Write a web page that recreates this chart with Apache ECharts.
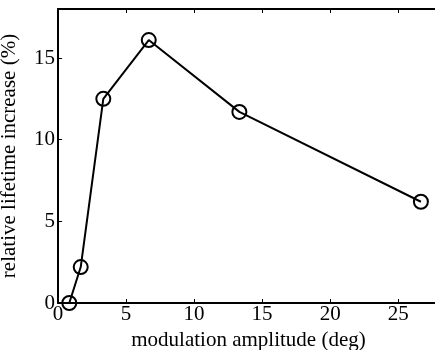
<!DOCTYPE html>
<html>
<head>
<meta charset="utf-8">
<script src="https://cdn.jsdelivr.net/npm/echarts@6/dist/echarts.min.js"></script>
<style>
  html, body { margin: 0; padding: 0; background: #fff; }
  #chart { width: 435px; height: 350px; }
</style>
</head>
<body>
<div id="chart"></div>
<script>
// modulation amplitude (deg) and relative lifetime increase (%)
const amplitude = [0.83, 1.67, 3.33, 6.67, 13.33, 26.67];
const increase = [0, 2.2, 12.5, 16.1, 11.7, 6.2];

const font = 'Liberation Serif';
const chart = echarts.init(document.getElementById('chart'));

chart.setOption({
    animation: false,
    grid: { left: 58, right: -4, top: 9, bottom: 47, outerBoundsMode: 'none' },
    xAxis: [
        {
            type: 'value',
            min: 0,
            max: 28,
            interval: 5,
            name: 'modulation amplitude (deg)',
            nameLocation: 'middle',
            nameGap: 25,
            nameTextStyle: { fontFamily: font, fontSize: 21, color: '#000' },
            axisLine: { show: true, lineStyle: { color: '#000', width: 2 } },
            axisTick: { inside: true, length: 4, lineStyle: { color: '#000', width: 1 } },
            axisLabel: { fontFamily: font, fontSize: 21, color: '#000', margin: 1, showMaxLabel: false },
            splitLine: { show: false }
        },
        {
            type: 'value',
            position: 'top',
            min: 0,
            max: 28,
            interval: 5,
            axisLine: { show: true, lineStyle: { color: '#000', width: 2 } },
            axisTick: { inside: true, length: 4, lineStyle: { color: '#000', width: 1 } },
            axisLabel: { show: false },
            splitLine: { show: false }
        }
    ],
    yAxis: {
        type: 'value',
        min: 0,
        max: 18,
        interval: 5,
        name: 'relative lifetime increase (%)',
        nameLocation: 'middle',
        nameGap: 38,
        nameTextStyle: { fontFamily: font, fontSize: 21, color: '#000' },
        axisLine: { show: true, lineStyle: { color: '#000', width: 2 } },
        axisTick: { inside: true, length: 4, lineStyle: { color: '#000', width: 1 } },
        axisLabel: { fontFamily: font, fontSize: 21, color: '#000', margin: 3, showMaxLabel: false },
        splitLine: { show: false }
    },
    series: [
        {
            type: 'line',
            data: amplitude.map((a, i) => [a, increase[i]]),
            clip: false,
            symbol: 'circle',
            symbolSize: 14,
            lineStyle: { color: '#000', width: 2 },
            itemStyle: { color: 'rgba(0,0,0,0)', borderColor: '#000', borderWidth: 2 }
        }
    ]
});
</script>
</body>
</html>
